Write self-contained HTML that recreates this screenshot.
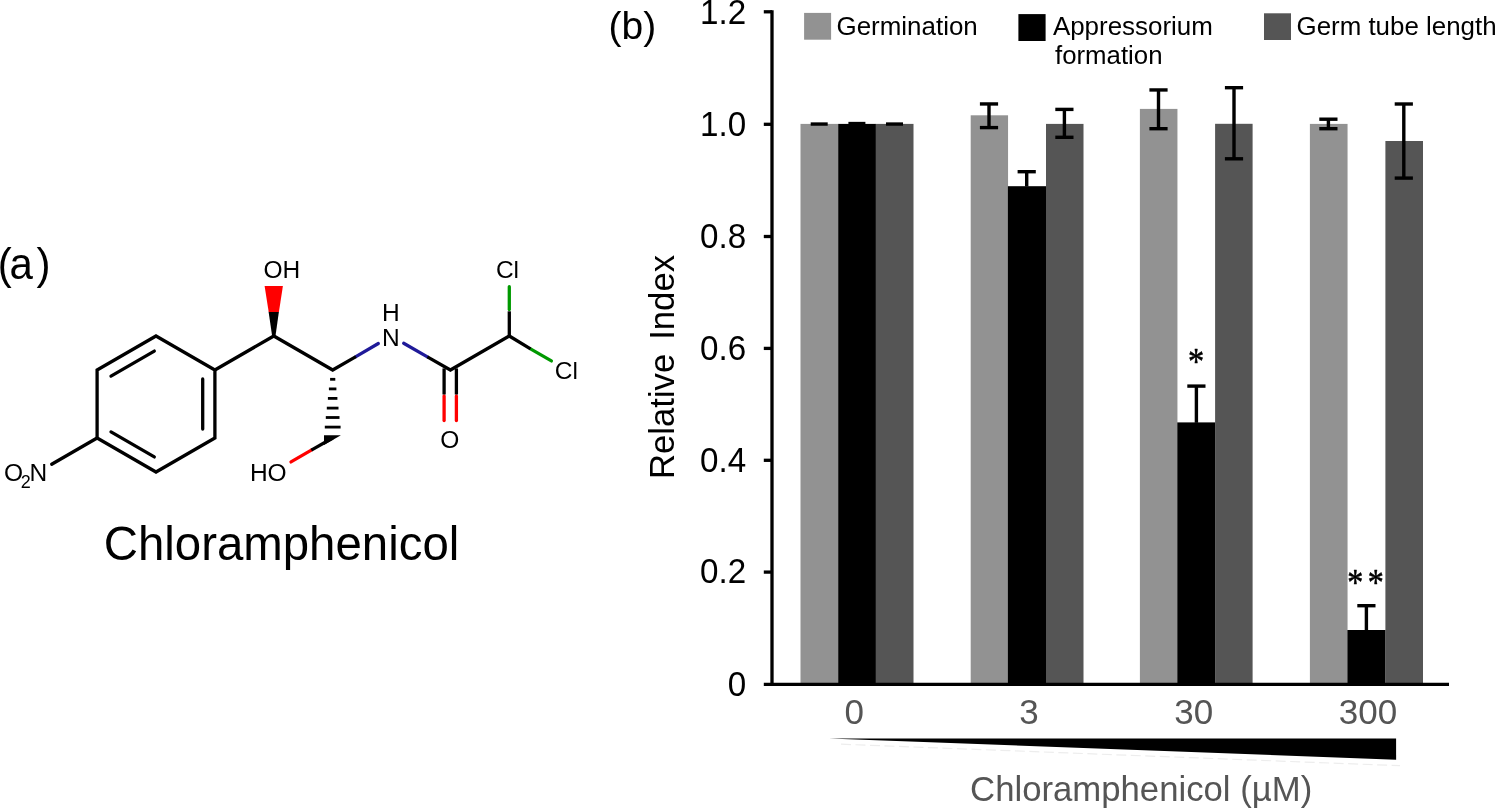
<!DOCTYPE html>
<html lang="en"><head><meta charset="utf-8"><title>Chloramphenicol figure</title>
<style>html,body{margin:0;padding:0;background:#fff;overflow:hidden}svg{display:block}text{font-family:"Liberation Sans",Arial,Helvetica,sans-serif}</style>
</head><body>
<svg width="1496" height="809" viewBox="0 0 1496 809">
<rect width="1496" height="809" fill="#fff"/>
<g id="mol-col" stroke-width="3.3" stroke-linecap="round" fill="none">
<line x1="355.9" y1="356.6" x2="378.3" y2="343.5" stroke="#1f1a99"/>
<line x1="403.7" y1="343.3" x2="427.4" y2="356.9" stroke="#1f1a99"/>
<line x1="444.1" y1="396.0" x2="444.1" y2="420.5" stroke="#ff0000"/>
<line x1="456.4" y1="396.0" x2="456.4" y2="420.5" stroke="#ff0000"/>
<line x1="509.3" y1="309.5" x2="509.3" y2="286.7" stroke="#009900"/>
<line x1="530.5" y1="348.9" x2="551.4" y2="360.9" stroke="#009900"/>
<line x1="311.3" y1="450.1" x2="291.0" y2="461.9" stroke="#ff0000"/>
</g>
<g id="mol" stroke="#000" stroke-width="3.3" stroke-linecap="butt" stroke-linejoin="miter" fill="none">
<polygon points="156.0,336.0 214.9,370.0 214.9,438.0 156.0,472.0 97.1,438.0 97.1,370.0"/>
<polyline points="214.9,370.0 273.8,336.0 332.7,370.0 355.9,356.6"/>
<polyline points="427.4,356.9 450.4,370.0 509.3,336.0 530.5,348.9"/>
<line x1="509.3" y1="336.0" x2="509.3" y2="311.3"/>
<line x1="444.1" y1="368.4" x2="444.1" y2="394.5"/>
<line x1="456.4" y1="368.4" x2="456.4" y2="394.5"/>
<line x1="332.7" y1="438.0" x2="311.3" y2="450.1"/>
</g>
<g stroke="#000" stroke-width="3.3" stroke-linecap="round" fill="none">
<line x1="97.1" y1="438.0" x2="51.7" y2="464.25"/>
<line x1="202.7" y1="379.0" x2="202.7" y2="429.0"/>
<line x1="111.0" y1="376.1" x2="154.3" y2="351.1"/>
<line x1="154.3" y1="456.9" x2="111.0" y2="431.9"/>
</g>
<polygon points="272.2,336.6 275.4,336.6 278.9,311.8 268.6,311.8" fill="#000"/>
<polygon points="268.7,311.9 278.9,311.9 282.9,286.1 264.6,286.1" fill="#ff0000"/>
<g stroke="#000" stroke-width="2.8" fill="none">
<line x1="330.1" y1="379.3" x2="335.3" y2="379.3"/>
<line x1="328.9" y1="388.9" x2="336.4" y2="388.9"/>
<line x1="327.9" y1="398.4" x2="337.4" y2="398.4"/>
<line x1="326.8" y1="408.1" x2="338.5" y2="408.1"/>
<line x1="325.8" y1="417.5" x2="339.5" y2="417.5"/>
<line x1="324.8" y1="427.1" x2="340.6" y2="427.1"/>
</g>
<polygon points="324.0,435.2 340.9,435.2 324.0,444.9" fill="#000"/>
<text x="263.5" y="278.3" font-size="24.5" text-anchor="start">OH</text>
<text x="382.1" y="321.4" font-size="24.5" text-anchor="start">H</text>
<text x="382.1" y="345.6" font-size="24.5" text-anchor="start">N</text>
<text x="440.3" y="447.7" font-size="24.5" text-anchor="start">O</text>
<text x="495.9" y="278.4" font-size="24.5" text-anchor="start">Cl</text>
<text x="554.8" y="379.2" font-size="24.5" text-anchor="start">Cl</text>
<text x="249.9" y="480.9" font-size="24.5" text-anchor="start">HO</text>
<text font-size="24.5"><tspan x="3.9" y="481">O</tspan><tspan x="20.8" y="488" font-size="18">2</tspan><tspan x="29.4" y="481">N</tspan></text>
<text x="103.7" y="560.2" font-size="47.4" text-anchor="start">Chloramphenicol</text>
<text transform="translate(-2.2,279) scale(0.955,1)" font-size="44" text-anchor="start">(<tspan dx="-2.4">a</tspan><tspan dx="3.7">)</tspan></text>
<text x="608.6" y="39.4" font-size="39" text-anchor="start">(b)</text>
<rect x="800.5" y="123.9" width="37.85" height="560.4" fill="#929292"/>
<rect x="838.2" y="123.9" width="37.75" height="560.4" fill="#000000"/>
<rect x="875.8" y="123.9" width="37.70" height="560.4" fill="#555555"/>
<rect x="970.7" y="115.3" width="37.35" height="569.0" fill="#929292"/>
<rect x="1007.9" y="186.2" width="38.25" height="498.1" fill="#000000"/>
<rect x="1046.0" y="123.9" width="37.50" height="560.4" fill="#555555"/>
<rect x="1139.9" y="108.9" width="37.55" height="575.4" fill="#929292"/>
<rect x="1177.3" y="422.4" width="37.95" height="261.9" fill="#000000"/>
<rect x="1215.1" y="123.8" width="37.50" height="560.5" fill="#555555"/>
<rect x="1309.9" y="123.9" width="37.65" height="560.4" fill="#929292"/>
<rect x="1347.4" y="630.0" width="38.15" height="54.3" fill="#000000"/>
<rect x="1385.4" y="141.0" width="37.60" height="543.3" fill="#555555"/>
<g stroke="#000" stroke-width="3.4" fill="none">
<line x1="810.7" y1="124.05" x2="827.7" y2="124.05"/>
<line x1="848.4" y1="123.55" x2="865.4" y2="123.55"/>
<line x1="886.0" y1="124.05" x2="903.0" y2="124.05"/>
<line x1="979.9" y1="103.95" x2="998.1" y2="103.95"/>
<line x1="979.9" y1="127.6" x2="998.1" y2="127.6"/>
<line x1="989.0" y1="103.95" x2="989.0" y2="127.6"/>
<line x1="1017.6" y1="171.7" x2="1035.8" y2="171.7"/>
<line x1="1026.7" y1="171.7" x2="1026.7" y2="186.5"/>
<line x1="1055.3" y1="109.4" x2="1073.5" y2="109.4"/>
<line x1="1055.3" y1="137.3" x2="1073.5" y2="137.3"/>
<line x1="1064.4" y1="109.4" x2="1064.4" y2="137.3"/>
<line x1="1149.4" y1="89.95" x2="1167.6" y2="89.95"/>
<line x1="1149.4" y1="128.7" x2="1167.6" y2="128.7"/>
<line x1="1158.5" y1="89.95" x2="1158.5" y2="128.7"/>
<line x1="1187.3" y1="386.1" x2="1205.5" y2="386.1"/>
<line x1="1196.4" y1="386.1" x2="1196.4" y2="422.8"/>
<line x1="1224.9" y1="87.7" x2="1243.1" y2="87.7"/>
<line x1="1224.9" y1="158.8" x2="1243.1" y2="158.8"/>
<line x1="1234.0" y1="87.7" x2="1234.0" y2="158.8"/>
<line x1="1319.3" y1="119.2" x2="1337.5" y2="119.2"/>
<line x1="1319.3" y1="128.7" x2="1337.5" y2="128.7"/>
<line x1="1328.4" y1="119.2" x2="1328.4" y2="128.7"/>
<line x1="1357.3" y1="605.7" x2="1375.5" y2="605.7"/>
<line x1="1366.4" y1="605.7" x2="1366.4" y2="630.4"/>
<line x1="1394.7" y1="104.0" x2="1412.9" y2="104.0"/>
<line x1="1394.7" y1="178.1" x2="1412.9" y2="178.1"/>
<line x1="1403.8" y1="104.0" x2="1403.8" y2="178.1"/>
</g>
<g stroke="#000" stroke-width="3.3" fill="none">
<line x1="772.0" y1="10.15" x2="772.0" y2="685.95"/>
<line x1="763.8" y1="684.3" x2="1449" y2="684.3"/>
<line x1="763.8" y1="572.1" x2="772.0" y2="572.1"/>
<line x1="763.8" y1="460.3" x2="772.0" y2="460.3"/>
<line x1="763.8" y1="348.4" x2="772.0" y2="348.4"/>
<line x1="763.8" y1="236.5" x2="772.0" y2="236.5"/>
<line x1="763.8" y1="124.3" x2="772.0" y2="124.3"/>
<line x1="763.8" y1="11.8" x2="772.0" y2="11.8"/>
</g>
<text transform="translate(746.2,695.5) scale(0.94,1)" font-size="35.3" text-anchor="end">0</text>
<text transform="translate(746.2,583.3) scale(0.94,1)" font-size="35.3" text-anchor="end">0.2</text>
<text transform="translate(746.2,471.5) scale(0.94,1)" font-size="35.3" text-anchor="end">0.4</text>
<text transform="translate(746.2,359.6) scale(0.94,1)" font-size="35.3" text-anchor="end">0.6</text>
<text transform="translate(746.2,247.7) scale(0.94,1)" font-size="35.3" text-anchor="end">0.8</text>
<text transform="translate(746.2,135.5) scale(0.94,1)" font-size="35.3" text-anchor="end">1.0</text>
<text transform="translate(746.2,24.4) scale(0.94,1)" font-size="35.3" text-anchor="end">1.2</text>
<text transform="translate(673.7,479.1) rotate(-90)" font-size="34.7" word-spacing="4.3">Relative Index</text>
<rect x="804.1" y="12.9" width="27" height="26.8" fill="#929292"/>
<rect x="1018.4" y="14.1" width="27.2" height="26.9" fill="#000000"/>
<rect x="1264" y="13.3" width="27" height="26.7" fill="#555555"/>
<text x="836.5" y="35.2" font-size="25.95" text-anchor="start">Germination</text>
<text x="1052.9" y="35.1" font-size="25.95" text-anchor="start">Appressorium</text>
<text x="1055.0" y="63.5" font-size="25.8" text-anchor="start">formation</text>
<text x="1296.5" y="35.2" font-size="25.9" text-anchor="start">Germ tube length</text>
<text transform="translate(1187.9,373.9) scale(0.84,1)" font-size="38.5" style="font-family:'Liberation Serif',serif" stroke="#000" stroke-width="0.55" stroke-linejoin="round">*</text>
<text transform="translate(1347.35,594.75) scale(0.84,1)" font-size="38.2" style="font-family:'Liberation Serif',serif" stroke="#000" stroke-width="0.55" stroke-linejoin="round"><tspan x="0">*</tspan><tspan x="24.3">*</tspan></text>
<text transform="translate(844.6,723.9) scale(0.98,1)" font-size="35.7" text-anchor="start" fill="#555555">0</text>
<text transform="translate(1019.3,723.9) scale(0.98,1)" font-size="35.7" text-anchor="start" fill="#555555">3</text>
<text transform="translate(1174.2,723.9) scale(0.98,1)" font-size="35.7" text-anchor="start" fill="#555555">30</text>
<text transform="translate(1338.8,723.9) scale(0.98,1)" font-size="35.7" text-anchor="start" fill="#555555">300</text>
<line x1="841" y1="744.2" x2="1400" y2="765.7" stroke="#ededed" stroke-width="1.2" stroke-dasharray="10 4.5"/>
<polygon points="829,738.4 1396.1,738.4 1396.1,759.8" fill="#000"/>
<text transform="translate(970.1,800.9) scale(1.012,1)" font-size="34.3" text-anchor="start" fill="#555555">Chloramphenicol (µM)</text>
</svg>
</body></html>
